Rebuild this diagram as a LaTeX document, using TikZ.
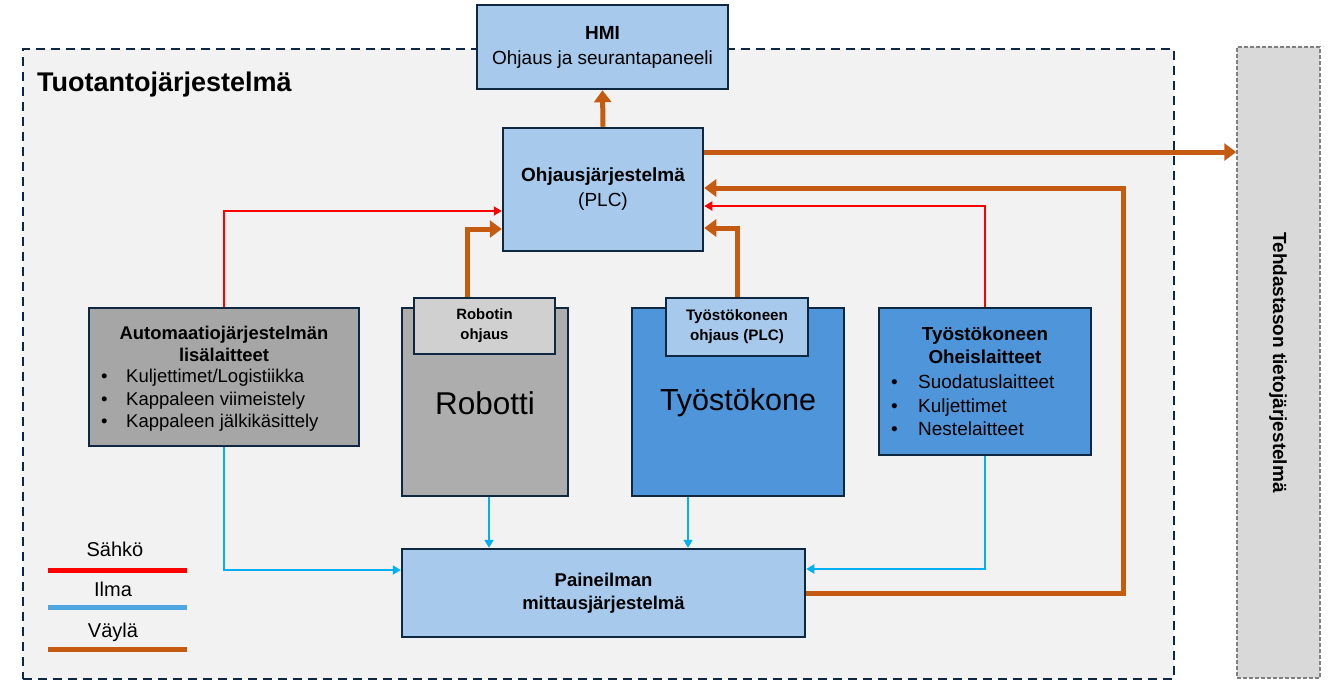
\documentclass[tikz,border=0pt]{standalone}
\usepackage{fontspec}
\setmainfont{Liberation Sans}
\usetikzlibrary{arrows.meta,calc}
\definecolor{navy}{HTML}{0E2841}
\definecolor{bgray}{HTML}{F2F2F2}
\definecolor{lblue}{HTML}{A6C9EC}
\definecolor{mblue}{HTML}{4E95D9}
\definecolor{dgray}{HTML}{A6A6A6}
\definecolor{rgray}{HTML}{ADADAD}
\definecolor{lgray}{HTML}{D0D0D0}
\definecolor{busc}{HTML}{C55A11}
\definecolor{airc}{HTML}{00B0F0}
\definecolor{legair}{HTML}{4EA7DE}
\definecolor{elc}{HTML}{FF0000}
\definecolor{tgray}{HTML}{D9D9D9}
\definecolor{tdash}{HTML}{808080}
\newcommand\fsz[2]{\fontsize{#1}{#2}\selectfont}
\tikzset{
  box/.style={draw=navy, line width=2.5pt, inner sep=0pt},
  txt/.style={inner sep=0pt, text=black},
  el/.style={draw=elc, line width=2pt, -{Triangle[length=8pt,width=9pt]}},
  air/.style={draw=airc, line width=2pt, -{Triangle[length=8pt,width=9pt]}},
  bus/.style={draw=busc, line width=5pt, -{Triangle[length=12pt,width=17pt]}},
  legline/.style={line width=5pt}
}
\begin{document}
\begin{tikzpicture}[x=1pt,y=-1pt]
\useasboundingbox (0,0) rectangle (1330,681);
% production system area
\node[draw=navy, line width=2.5pt, dash pattern=on 9pt off 6pt, fill=bgray,
      minimum width=1151pt, minimum height=630pt, inner sep=0pt] (tuot) at (598.5,364) {};
\node[txt, anchor=west, font={\fsz{27}{30}\bfseries}] (tuotT) at (37,85) {Tuotantojärjestelmä};
% factory-level info system
\node[draw=tdash, line width=1.5pt, dash pattern=on 4pt off 2pt, fill=tgray,
      minimum width=83pt, minimum height=631pt, inner sep=0pt] (tieto) at (1278.5,362.5) {};
\node[txt, rotate=-90, font={\fsz{19}{22}\bfseries}] (tietoT) at (1278,362.5) {Tehdastason tietojärjestelmä};
% HMI
\node[box, fill=lblue, minimum width=251pt, minimum height=84pt, align=center, font={\fsz{19}{25}}] (hmi) at (602.5,47)
  {\textbf{HMI}\\Ohjaus ja seurantapaneeli};
% PLC
\node[box, fill=lblue, minimum width=200pt, minimum height=123pt, align=center, font={\fsz{19}{25}}] (plc) at (603,189.5)
  {\textbf{Ohjausjärjestelmä}\\(PLC)};
% Automation accessories
\node[box, fill=dgray, minimum width=270pt, minimum height=138pt] (auto) at (224,377) {};
\node[txt, align=center, font={\fsz{18.4}{22}\bfseries}] (autoT) at (224,344) {Automaatiojärjestelmän\\lisälaitteet};
\node[txt, align=left, anchor=west, font={\fsz{18.5}{22.5}}] (autoL) at (101,400.5)
  {\makebox[25pt][l]{•}Kuljettimet/Logistiikka\\\makebox[25pt][l]{•}Kappaleen viimeistely\\\makebox[25pt][l]{•}Kappaleen jälkikäsittely};
% Robot
\node[box, fill=rgray, minimum width=166pt, minimum height=188pt] (robot) at (485,402) {};
\node[txt, font={\fsz{31.5}{34}}] (robotT) at (485,403) {Robotti};
\node[box, fill=lgray, minimum width=141pt, minimum height=56pt, align=center, font={\fsz{14.9}{20}\bfseries}] (rohj) at (484.5,326)
  {Robotin\\ohjaus};
% Machine tool
\node[box, fill=mblue, minimum width=212pt, minimum height=188pt] (tk) at (738,402) {};
\node[txt, font={\fsz{30.5}{34}}] (tkT) at (738,403) {Työstökone};
\node[box, fill=lblue, minimum width=142pt, minimum height=58pt, align=center, font={\fsz{15.2}{20}\bfseries}] (tohj) at (737,327)
  {Työstökoneen\\ohjaus (PLC)};
% Machine tool peripherals
\node[box, fill=mblue, minimum width=212pt, minimum height=147pt] (oheis) at (985,381.5) {};
\node[txt, align=center, font={\fsz{18.8}{23}\bfseries}] (oheisT) at (985,345.5) {Työstökoneen\\Oheislaitteet};
\node[txt, align=left, anchor=west, font={\fsz{19}{23.5}}] (oheisL) at (891,405.5)
  {\makebox[27pt][l]{•}Suodatuslaitteet\\\makebox[27pt][l]{•}Kuljettimet\\\makebox[27pt][l]{•}Nestelaitteet};
% Compressed air measurement
\node[box, fill=lblue, minimum width=403pt, minimum height=88pt, align=center, font={\fsz{18.5}{23}\bfseries}] (pm) at (603.5,593)
  {Paineilman\\mittausjärjestelmä};
% legend
\node[txt, font={\fsz{20}{22}}] (lsah) at (115,549) {Sähkö};
\draw[legline, draw=elc] (48,570) -- (187,570);
\node[txt, font={\fsz{20}{22}}] (lilma) at (113,589) {Ilma};
\draw[legline, draw=legair] (48,607) -- (187,607);
\node[txt, font={\fsz{20}{22}}] (lvayla) at (113,632) {Väylä};
\draw[legline, draw=busc] (48,649) -- (187,649);
% connector coordinates
\coordinate (pL1) at ([yshift=-21.5pt]plc.west);
\coordinate (pL2) at ([yshift=-39.5pt]plc.west);
\coordinate (pR0) at ([yshift=37.5pt]plc.east);
\coordinate (pR1) at ([yshift=1.5pt]plc.east);
\coordinate (pR2) at ([yshift=-16.5pt]plc.east);
\coordinate (pR3) at ([yshift=-38.5pt]plc.east);
\coordinate (busR) at (1123,0);
\coordinate (rbot) at ([xshift=4pt]robot.south);
\coordinate (tbot) at ([xshift=-50pt]tk.south);
\coordinate (pmL) at ([yshift=23pt]pm.west);
\coordinate (pmR) at ([yshift=24pt]pm.east);
\coordinate (rohjTop) at ([xshift=-17.5pt]rohj.north);
% bus connectors
\draw[bus] (plc.north) -- (hmi.south);
\draw[bus] (pR0) -- (pR0 -| tieto.west);
\draw[bus] (pm.east) -| (busR |- pR1) -- (pR1);
\draw[bus] (rohjTop) |- (pL2);
\draw[bus] (tohj.north) |- (pR3);
% electric
\draw[el] (auto.north) |- (pL1);
\draw[el] (oheis.north) |- (pR2);
% air
\draw[air] (auto.south) |- (pmL);
\draw[air] (rbot) -- (rbot |- pm.north);
\draw[air] (tbot) -- (tbot |- pm.north);
\draw[air] (oheis.south) |- (pmR);
\end{tikzpicture}
\end{document}
